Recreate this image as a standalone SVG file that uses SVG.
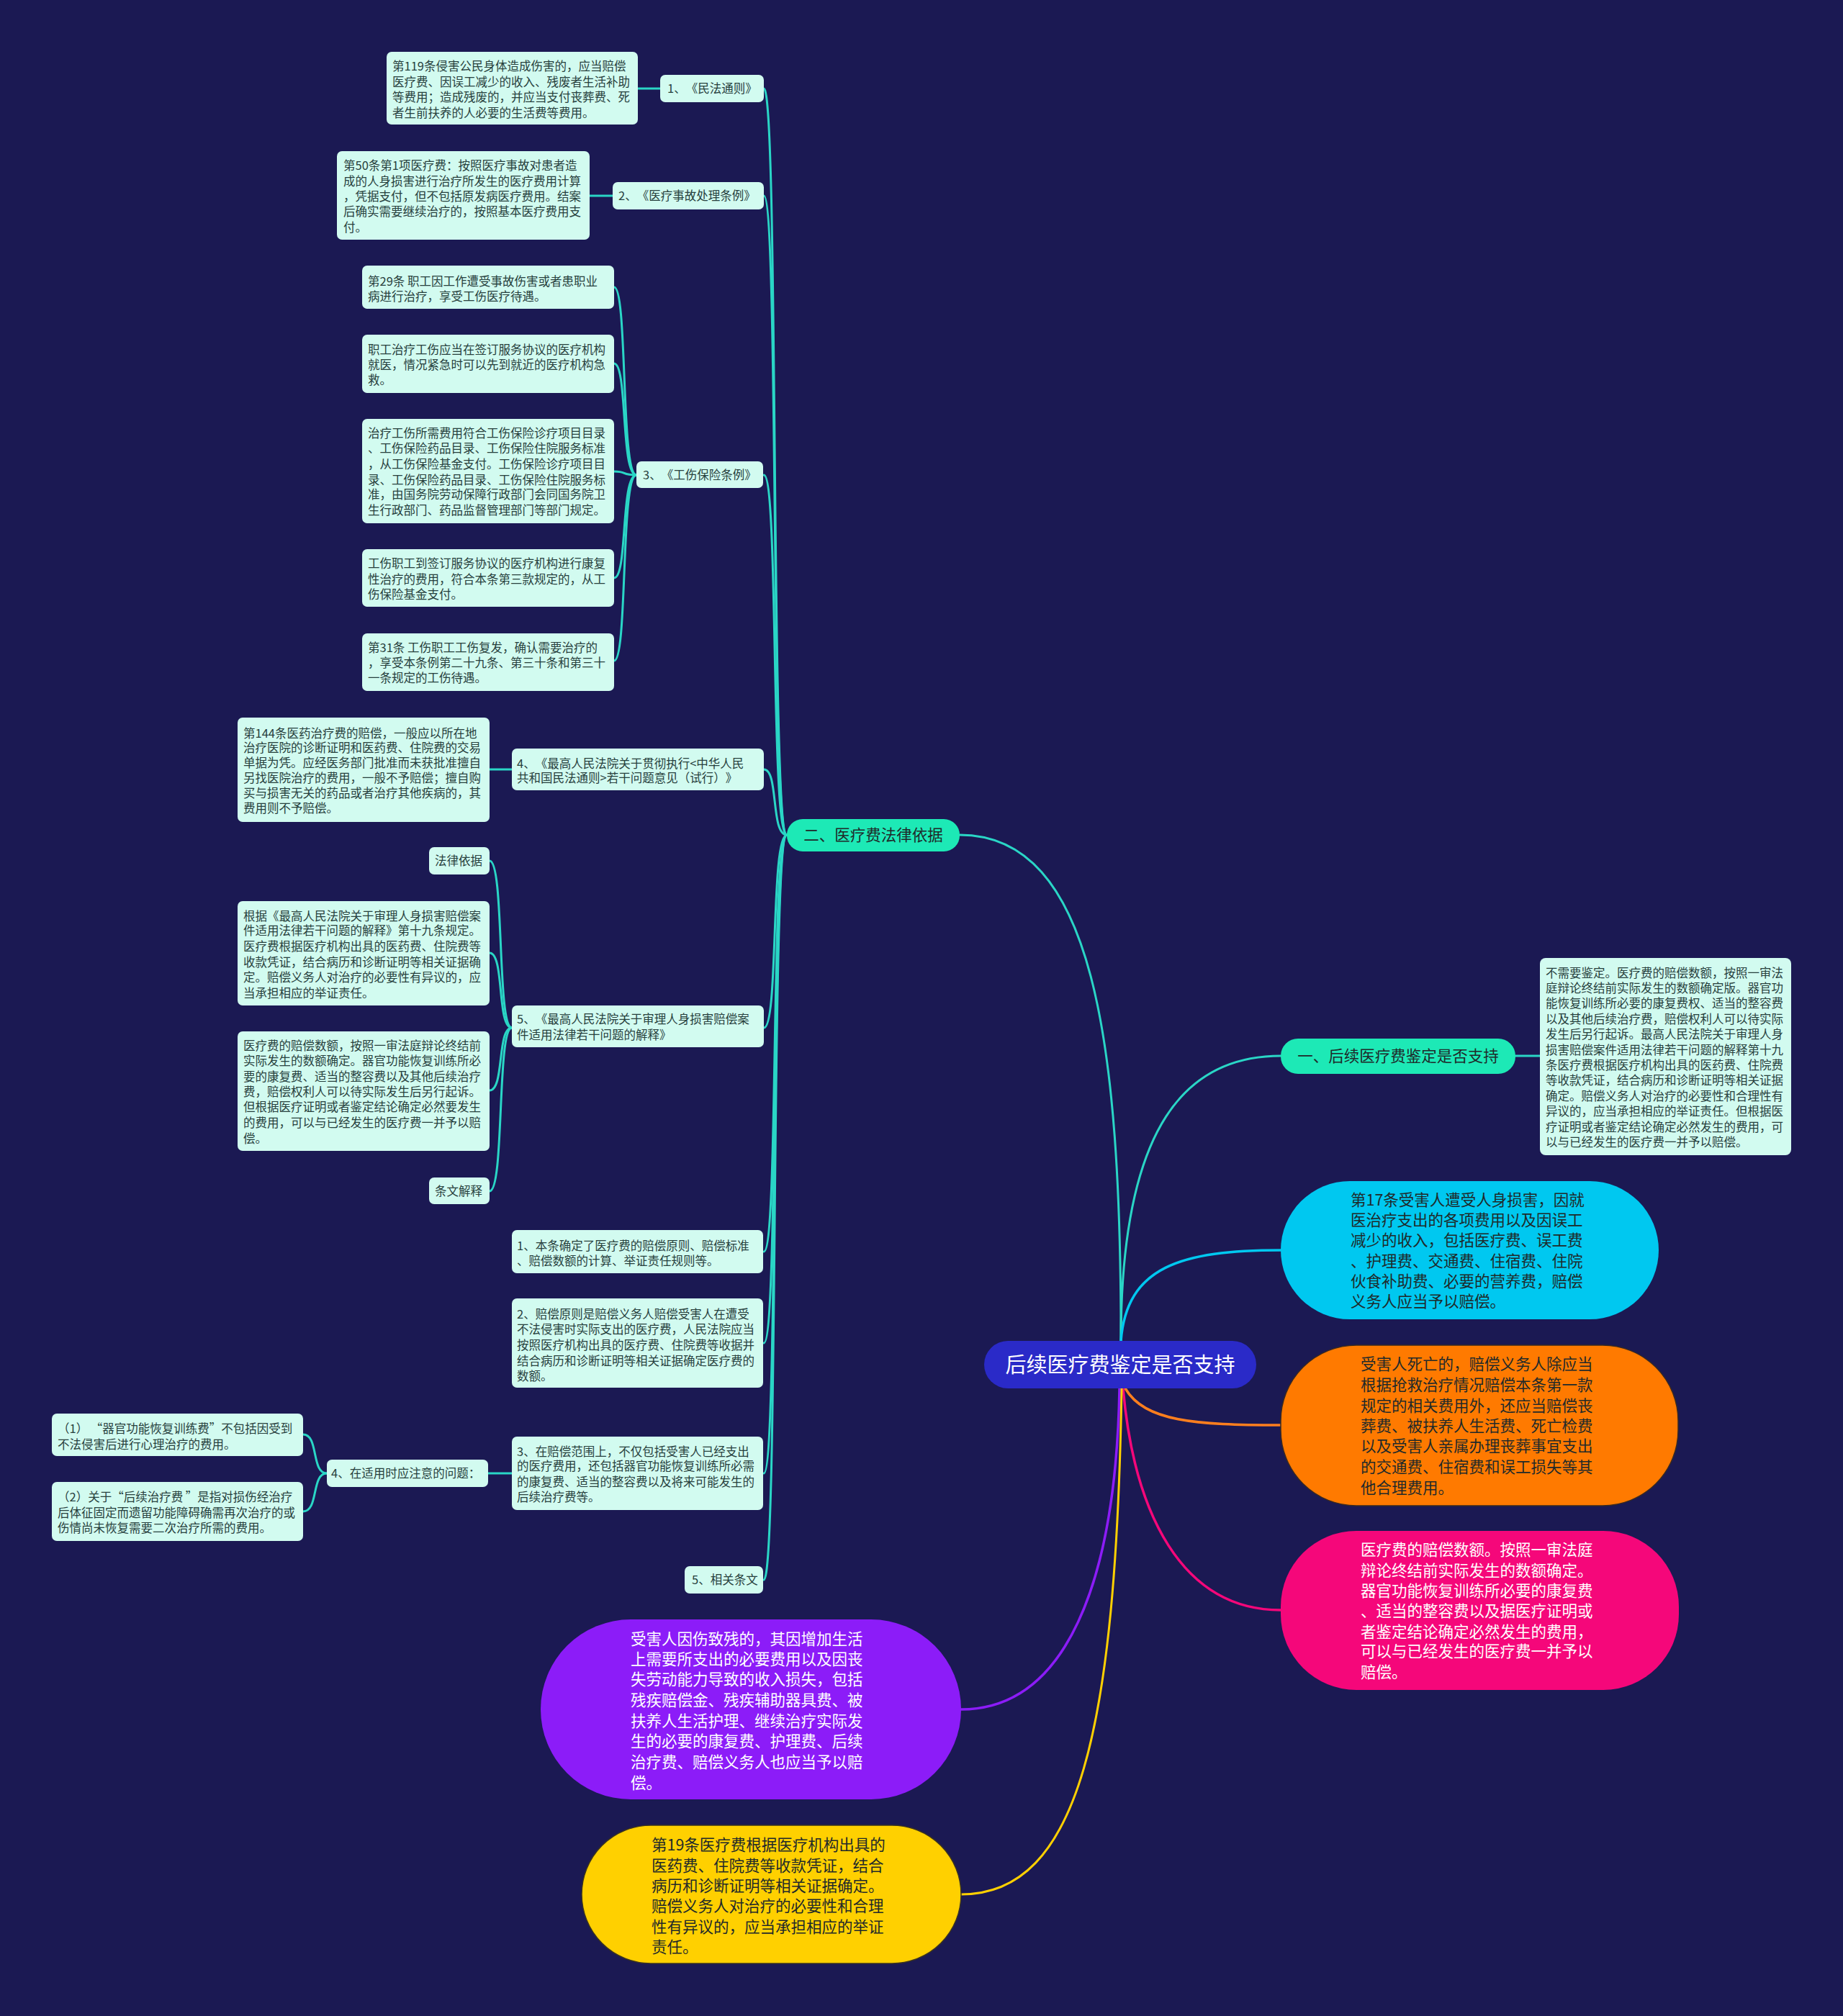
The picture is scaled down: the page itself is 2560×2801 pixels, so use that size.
<svg xmlns="http://www.w3.org/2000/svg" width="2560" height="2801" viewBox="0 0 2560 2801">
<style>
text{font-family:'Noto Sans CJK SC','Noto Sans',sans-serif;text-spacing-trim:space-all;}
.sm{font-size:16.5px;fill:#27403d;}
.big{font-size:21.5px;}
.dk{fill:#1f2a2a;}
.wt{fill:#ffffff;}
.box{fill:#d2fbf0;}
.tl{fill:none;stroke:#2ad6c6;stroke-width:3;}
</style>
<rect x="0" y="0" width="2560" height="2801" fill="#1b1953"/>
<g id="connectors" fill="none" stroke-linecap="round">
<path class="tl" d="M1557,1863 C1557,1450 1520,1160 1333,1160"/>
<path class="tl" d="M1557,1863 C1557,1560 1650,1467 1779,1467"/>
<path d="M1557,1863 C1565,1760 1640,1737 1779,1737" stroke="#00c8f0" stroke-width="3.5"/>
<path d="M1563,1929 C1590,1975 1660,1980 1779,1980" stroke="#ff7f1e" stroke-width="3.5"/>
<path d="M1560,1929 C1575,2100 1640,2237 1779,2237" stroke="#f5077a" stroke-width="3.5"/>
<path d="M1555,1929 C1550,2200 1480,2375 1335,2375" stroke="#8c1cf8" stroke-width="3.5"/>
<path d="M1558,1929 C1550,2400 1500,2632 1335,2632" stroke="#ffd000" stroke-width="3"/>
<path class="tl" d="M2105,1467 L2139,1467"/>
<path class="tl" d="M1093,1160 C1070,1160 1082,123 1061,123"/>
<path class="tl" d="M1093,1160 C1070,1160 1082,272 1061,272"/>
<path class="tl" d="M1093,1160 C1070,1160 1082,660 1061,660"/>
<path class="tl" d="M1093,1160 C1070,1160 1082,1069 1061,1069"/>
<path class="tl" d="M1093,1160 C1070,1160 1082,1428 1061,1428"/>
<path class="tl" d="M1093,1160 C1070,1160 1082,1739 1061,1739"/>
<path class="tl" d="M1093,1160 C1070,1160 1082,1866 1061,1866"/>
<path class="tl" d="M1093,1160 C1070,1160 1082,2047 1061,2047"/>
<path class="tl" d="M1093,1160 C1070,1160 1082,2195 1061,2195"/>
<path class="tl" d="M917,123 L886,123"/>
<path class="tl" d="M851,272 L819,272"/>
<path class="tl" d="M884,660 C862,660 872,399 853,399"/>
<path class="tl" d="M884,660 C862,660 872,505 853,505"/>
<path class="tl" d="M884,660 C862,660 872,655 853,655"/>
<path class="tl" d="M884,660 C862,660 872,803 853,803"/>
<path class="tl" d="M884,660 C862,660 872,918 853,918"/>
<path class="tl" d="M711,1069 L680,1069"/>
<path class="tl" d="M711,1428 C690,1428 701,1196 680,1196"/>
<path class="tl" d="M711,1428 C690,1428 701,1324 680,1324"/>
<path class="tl" d="M711,1428 C690,1428 701,1515 680,1515"/>
<path class="tl" d="M711,1428 C690,1428 701,1655 680,1655"/>
<path class="tl" d="M711,2047 L678,2047"/>
<path class="tl" d="M454,2047 C432,2047 443,1993 421,1993"/>
<path class="tl" d="M454,2047 C432,2047 443,2100 421,2100"/>
</g>

<g id="root">
<rect x="1367" y="1863" width="378" height="66" rx="33" fill="#2a2ac8"/>
<text x="1556" y="1907" text-anchor="middle" font-size="29" class="wt">后续医疗费鉴定是否支持</text>
</g>

<g id="branch-2">
<rect x="1093" y="1138" width="240" height="45" rx="22" fill="#1de9b6"/>
<text x="1213" y="1168" text-anchor="middle" class="big dk">二、医疗费法律依据</text>
</g>

<g id="branch-1">
<rect x="1779" y="1443" width="326" height="49" rx="24" fill="#1de9b6"/>
<text x="1942" y="1475" text-anchor="middle" class="big dk">一、后续医疗费鉴定是否支持</text>
</g>

<g id="branch-1-detail">
<rect class="box" x="2139" y="1331" width="349" height="274" rx="8"/>
<text class="sm">
<tspan x="2147" y="1358">不需要鉴定。医疗费的赔偿数额，按照一审法</tspan>
<tspan x="2147" y="1379">庭辩论终结前实际发生的数额确定版。器官功</tspan>
<tspan x="2147" y="1400">能恢复训练所必要的康复费权、适当的整容费</tspan>
<tspan x="2147" y="1422">以及其他后续治疗费，赔偿权利人可以待实际</tspan>
<tspan x="2147" y="1443">发生后另行起诉。最高人民法院关于审理人身</tspan>
<tspan x="2147" y="1465">损害赔偿案件适用法律若干问题的解释第十九</tspan>
<tspan x="2147" y="1486">条医疗费根据医疗机构出具的医药费、住院费</tspan>
<tspan x="2147" y="1507">等收款凭证，结合病历和诊断证明等相关证据</tspan>
<tspan x="2147" y="1529">确定。赔偿义务人对治疗的必要性和合理性有</tspan>
<tspan x="2147" y="1550">异议的，应当承担相应的举证责任。但根据医</tspan>
<tspan x="2147" y="1572">疗证明或者鉴定结论确定必然发生的费用，可</tspan>
<tspan x="2147" y="1593">以与已经发生的医疗费一并予以赔偿。</tspan>
</text>
</g>

<g id="node-cyan">
<rect x="1779" y="1641" width="525" height="192" rx="96" fill="#00c8f0"/>
<text class="big dk">
<tspan x="1876" y="1675">第17条受害人遭受人身损害，因就</tspan>
<tspan x="1876" y="1703">医治疗支出的各项费用以及因误工</tspan>
<tspan x="1876" y="1731">减少的收入，包括医疗费、误工费</tspan>
<tspan x="1876" y="1760">、护理费、交通费、住宿费、住院</tspan>
<tspan x="1876" y="1788">伙食补助费、必要的营养费，赔偿</tspan>
<tspan x="1876" y="1816">义务人应当予以赔偿。</tspan>
</text>
</g>

<g id="node-orange">
<rect x="1779" y="1869" width="552" height="223" rx="105" fill="#ff7a00" stroke="#3a2a20" stroke-width="1.5"/>
<text class="big dk">
<tspan x="1890" y="1903">受害人死亡的，赔偿义务人除应当</tspan>
<tspan x="1890" y="1932">根据抢救治疗情况赔偿本条第一款</tspan>
<tspan x="1890" y="1961">规定的相关费用外，还应当赔偿丧</tspan>
<tspan x="1890" y="1989">葬费、被扶养人生活费、死亡检费</tspan>
<tspan x="1890" y="2017">以及受害人亲属办理丧葬事宜支出</tspan>
<tspan x="1890" y="2046">的交通费、住宿费和误工损失等其</tspan>
<tspan x="1890" y="2075">他合理费用。</tspan>
</text>
</g>

<g id="node-pink">
<rect x="1779" y="2127" width="553" height="221" rx="105" fill="#f5077a"/>
<text class="big wt">
<tspan x="1890" y="2161">医疗费的赔偿数额。按照一审法庭</tspan>
<tspan x="1890" y="2190">辩论终结前实际发生的数额确定。</tspan>
<tspan x="1890" y="2218">器官功能恢复训练所必要的康复费</tspan>
<tspan x="1890" y="2246">、适当的整容费以及据医疗证明或</tspan>
<tspan x="1890" y="2275">者鉴定结论确定必然发生的费用，</tspan>
<tspan x="1890" y="2302">可以与已经发生的医疗费一并予以</tspan>
<tspan x="1890" y="2331">赔偿。</tspan>
</text>
</g>

<g id="node-purple">
<rect x="751" y="2250" width="584" height="250" rx="125" fill="#8c1cf8"/>
<text class="big wt">
<tspan x="876" y="2285">受害人因伤致残的，其因增加生活</tspan>
<tspan x="876" y="2313">上需要所支出的必要费用以及因丧</tspan>
<tspan x="876" y="2341">失劳动能力导致的收入损失，包括</tspan>
<tspan x="876" y="2370">残疾赔偿金、残疾辅助器具费、被</tspan>
<tspan x="876" y="2399">扶养人生活护理、继续治疗实际发</tspan>
<tspan x="876" y="2427">生的必要的康复费、护理费、后续</tspan>
<tspan x="876" y="2456">治疗费、赔偿义务人也应当予以赔</tspan>
<tspan x="876" y="2485">偿。</tspan>
</text>
</g>

<g id="node-yellow">
<rect x="808" y="2536" width="527" height="192" rx="96" fill="#ffd000" stroke="#3a3320" stroke-width="1.5"/>
<text class="big dk">
<tspan x="905" y="2571">第19条医疗费根据医疗机构出具的</tspan>
<tspan x="905" y="2600">医药费、住院费等收款凭证，结合</tspan>
<tspan x="905" y="2628">病历和诊断证明等相关证据确定。</tspan>
<tspan x="905" y="2656">赔偿义务人对治疗的必要性和合理</tspan>
<tspan x="905" y="2685">性有异议的，应当承担相应的举证</tspan>
<tspan x="905" y="2713">责任。</tspan>
</text>
</g>

<g id="law-1">
<rect class="box" x="917" y="104" width="144" height="38" rx="7"/>
<text class="sm" x="927" y="129">1、《民法通则》</text>
</g>
<g id="law-1-detail">
<rect class="box" x="537" y="72" width="349" height="101" rx="7"/>
<text class="sm">
<tspan x="545" y="98">第119条侵害公民身体造成伤害的，应当赔偿</tspan>
<tspan x="545" y="120">医疗费、因误工减少的收入、残废者生活补助</tspan>
<tspan x="545" y="141">等费用；造成残废的，并应当支付丧葬费、死</tspan>
<tspan x="545" y="163">者生前扶养的人必要的生活费等费用。</tspan>
</text>
</g>

<g id="law-2">
<rect class="box" x="851" y="253" width="210" height="38" rx="7"/>
<text class="sm" x="859" y="278">2、《医疗事故处理条例》</text>
</g>
<g id="law-2-detail">
<rect class="box" x="468" y="210" width="351" height="123" rx="7"/>
<text class="sm">
<tspan x="477" y="236">第50条第1项医疗费：按照医疗事故对患者造</tspan>
<tspan x="477" y="258">成的人身损害进行治疗所发生的医疗费用计算</tspan>
<tspan x="477" y="279">，凭据支付，但不包括原发病医疗费用。结案</tspan>
<tspan x="477" y="300">后确实需要继续治疗的，按照基本医疗费用支</tspan>
<tspan x="477" y="322">付。</tspan>
</text>
</g>

<g id="law-3">
<rect class="box" x="884" y="641" width="176" height="37" rx="7"/>
<text class="sm" x="893" y="666">3、《工伤保险条例》</text>
</g>
<g id="law-3-a">
<rect class="box" x="503" y="369" width="350" height="60" rx="7"/>
<text class="sm"><tspan x="511" y="397">第29条 职工因工作遭受事故伤害或者患职业</tspan><tspan x="511" y="418">病进行治疗，享受工伤医疗待遇。</tspan></text>
</g>
<g id="law-3-b">
<rect class="box" x="503" y="465" width="350" height="81" rx="7"/>
<text class="sm"><tspan x="511" y="492">职工治疗工伤应当在签订服务协议的医疗机构</tspan><tspan x="511" y="513">就医，情况紧急时可以先到就近的医疗机构急</tspan><tspan x="511" y="534">救。</tspan></text>
</g>
<g id="law-3-c">
<rect class="box" x="503" y="582" width="350" height="145" rx="7"/>
<text class="sm"><tspan x="511" y="608">治疗工伤所需费用符合工伤保险诊疗项目目录</tspan><tspan x="511" y="629">、工伤保险药品目录、工伤保险住院服务标准</tspan><tspan x="511" y="651">，从工伤保险基金支付。工伤保险诊疗项目目</tspan><tspan x="511" y="673">录、工伤保险药品目录、工伤保险住院服务标</tspan><tspan x="511" y="693">准，由国务院劳动保障行政部门会同国务院卫</tspan><tspan x="511" y="715">生行政部门、药品监督管理部门等部门规定。</tspan></text>
</g>
<g id="law-3-d">
<rect class="box" x="503" y="763" width="350" height="80" rx="7"/>
<text class="sm"><tspan x="511" y="789">工伤职工到签订服务协议的医疗机构进行康复</tspan><tspan x="511" y="811">性治疗的费用，符合本条第三款规定的，从工</tspan><tspan x="511" y="832">伤保险基金支付。</tspan></text>
</g>
<g id="law-3-e">
<rect class="box" x="503" y="880" width="350" height="80" rx="7"/>
<text class="sm"><tspan x="511" y="906">第31条 工伤职工工伤复发，确认需要治疗的</tspan><tspan x="511" y="927">，享受本条例第二十九条、第三十条和第三十</tspan><tspan x="511" y="948">一条规定的工伤待遇。</tspan></text>
</g>

<g id="law-4">
<rect class="box" x="711" y="1040" width="350" height="58" rx="7"/>
<text class="sm"><tspan x="718" y="1067">4、《最高人民法院关于贯彻执行&lt;中华人民</tspan><tspan x="718" y="1087">共和国民法通则&gt;若干问题意见（试行）》</tspan></text>
</g>
<g id="law-4-detail">
<rect class="box" x="330" y="997" width="350" height="145" rx="7"/>
<text class="sm"><tspan x="338" y="1025">第144条医药治疗费的赔偿，一般应以所在地</tspan><tspan x="338" y="1045">治疗医院的诊断证明和医药费、住院费的交易</tspan><tspan x="338" y="1066">单据为凭。应经医务部门批准而未获批准擅自</tspan><tspan x="338" y="1087">另找医院治疗的费用，一般不予赔偿；擅自购</tspan><tspan x="338" y="1108">买与损害无关的药品或者治疗其他疾病的，其</tspan><tspan x="338" y="1129">费用则不予赔偿。</tspan></text>
</g>

<g id="law-5">
<rect class="box" x="711" y="1397" width="350" height="58" rx="7"/>
<text class="sm"><tspan x="718" y="1422">5、《最高人民法院关于审理人身损害赔偿案</tspan><tspan x="718" y="1444">件适用法律若干问题的解释》</tspan></text>
</g>
<g id="law-5-basis">
<rect class="box" x="596" y="1177" width="84" height="38" rx="7"/>
<text class="sm" x="604" y="1202">法律依据</text>
</g>
<g id="law-5-basis-text">
<rect class="box" x="330" y="1252" width="350" height="145" rx="7"/>
<text class="sm"><tspan x="338" y="1279">根据《最高人民法院关于审理人身损害赔偿案</tspan><tspan x="338" y="1299">件适用法律若干问题的解释》第十九条规定。</tspan><tspan x="338" y="1321">医疗费根据医疗机构出具的医药费、住院费等</tspan><tspan x="338" y="1343">收款凭证，结合病历和诊断证明等相关证据确</tspan><tspan x="338" y="1364">定。赔偿义务人对治疗的必要性有异议的，应</tspan><tspan x="338" y="1386">当承担相应的举证责任。</tspan></text>
</g>
<g id="law-5-amount">
<rect class="box" x="330" y="1433" width="350" height="166" rx="7"/>
<text class="sm"><tspan x="338" y="1459">医疗费的赔偿数额，按照一审法庭辩论终结前</tspan><tspan x="338" y="1480">实际发生的数额确定。器官功能恢复训练所必</tspan><tspan x="338" y="1502">要的康复费、适当的整容费以及其他后续治疗</tspan><tspan x="338" y="1523">费，赔偿权利人可以待实际发生后另行起诉。</tspan><tspan x="338" y="1544">但根据医疗证明或者鉴定结论确定必然要发生</tspan><tspan x="338" y="1566">的费用，可以与已经发生的医疗费一并予以赔</tspan><tspan x="338" y="1588">偿。</tspan></text>
</g>
<g id="law-5-explain">
<rect class="box" x="596" y="1636" width="84" height="37" rx="7"/>
<text class="sm" x="604" y="1661">条文解释</text>
</g>

<g id="item-1">
<rect class="box" x="711" y="1709" width="349" height="60" rx="7"/>
<text class="sm"><tspan x="718" y="1737">1、本条确定了医疗费的赔偿原则、赔偿标准</tspan><tspan x="718" y="1758">、赔偿数额的计算、举证责任规则等。</tspan></text>
</g>
<g id="item-2">
<rect class="box" x="711" y="1804" width="349" height="124" rx="7"/>
<text class="sm"><tspan x="718" y="1832">2、赔偿原则是赔偿义务人赔偿受害人在遭受</tspan><tspan x="718" y="1853">不法侵害时实际支出的医疗费，人民法院应当</tspan><tspan x="718" y="1875">按照医疗机构出具的医疗费、住院费等收据并</tspan><tspan x="718" y="1897">结合病历和诊断证明等相关证据确定医疗费的</tspan><tspan x="718" y="1918">数额。</tspan></text>
</g>
<g id="item-3">
<rect class="box" x="711" y="1996" width="349" height="102" rx="7"/>
<text class="sm"><tspan x="718" y="2023">3、在赔偿范围上，不仅包括受害人已经支出</tspan><tspan x="718" y="2043">的医疗费用，还包括器官功能恢复训练所必需</tspan><tspan x="718" y="2065">的康复费、适当的整容费以及将来可能发生的</tspan><tspan x="718" y="2086">后续治疗费等。</tspan></text>
</g>
<g id="item-4">
<rect class="box" x="454" y="2028" width="224" height="38" rx="7"/>
<text class="sm" x="460" y="2053">4、在适用时应注意的问题：</text>
</g>
<g id="item-4-1">
<rect class="box" x="72" y="1964" width="349" height="59" rx="7"/>
<text class="sm"><tspan x="80" y="1991">（1） “器官功能恢复训练费”不包括因受到</tspan><tspan x="80" y="2013">不法侵害后进行心理治疗的费用。</tspan></text>
</g>
<g id="item-4-2">
<rect class="box" x="72" y="2059" width="349" height="82" rx="7"/>
<text class="sm"><tspan x="80" y="2086">（2）关于“后续治疗费 ”是指对损伤经治疗</tspan><tspan x="80" y="2108">后体征固定而遗留功能障碍确需再次治疗的或</tspan><tspan x="80" y="2129">伤情尚未恢复需要二次治疗所需的费用。</tspan></text>
</g>
<g id="item-5">
<rect class="box" x="951" y="2176" width="109" height="38" rx="7"/>
<text class="sm" x="961" y="2201">5、相关条文</text>
</g>
</svg>
